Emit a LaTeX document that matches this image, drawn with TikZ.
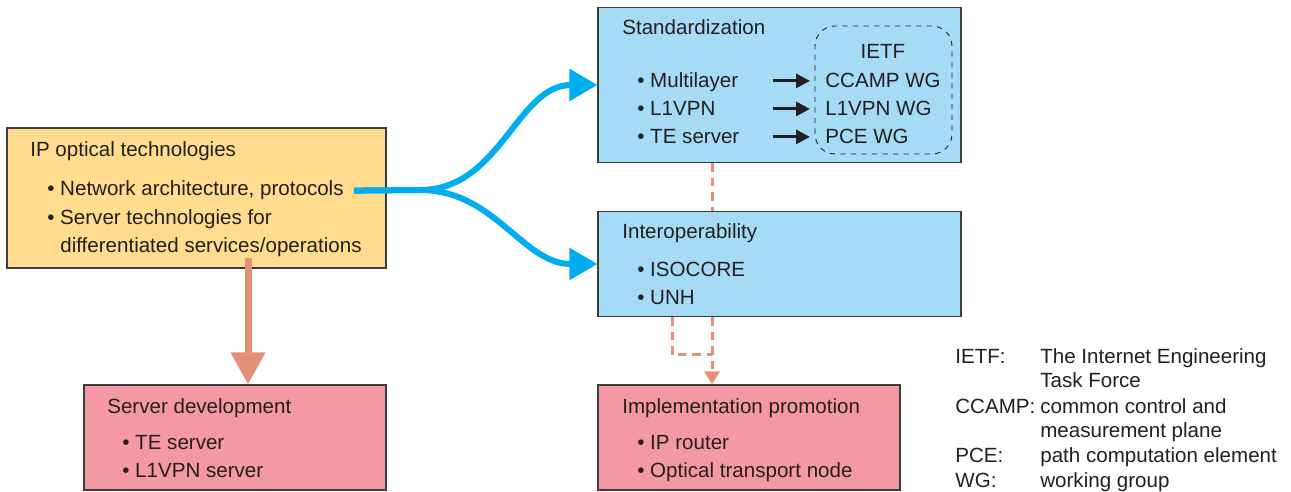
\documentclass[tikz,border=0pt]{standalone}
\usepackage{fontspec}
\setmainfont{Liberation Sans}
\usetikzlibrary{arrows.meta}

\definecolor{techyellow}{RGB}{255,220,142}
\definecolor{stdblue}{RGB}{166,219,246}
\definecolor{devpink}{RGB}{244,153,163}
\definecolor{flowcyan}{RGB}{0,174,239}
\definecolor{linksalmon}{RGB}{230,142,118}
\definecolor{boxline}{RGB}{60,60,60}
\definecolor{textdark}{RGB}{35,31,32}

\newcommand{\figfont}{\fontsize{11.7pt}{14pt}\selectfont}

\begin{document}
\begin{tikzpicture}[
            x=0.02cm, y=-0.02cm,
            box/.style={
                rectangle,
                draw=boxline,
                line width=0.7pt,
            },
            title/.style={
                anchor=base west,
                inner sep=0pt,
                text=textdark,
                font=\figfont
            },
            item/.style={
                anchor=base west,
                inner sep=0pt,
                text=textdark,
                font=\figfont
            },
            flow/.style={-{Triangle[length=0.56cm,width=0.62cm]}, draw=flowcyan, line width=0.12cm},
            feed/.style={-{Triangle[length=0.64cm,width=0.66cm]}, draw=linksalmon, line width=0.14cm},
            link/.style={draw=linksalmon, line width=0.06cm, dash pattern=on 0.17cm off 0.12cm},
            arrow/.style={-{Triangle[length=0.28cm,width=0.28cm]}, draw=textdark, line width=0.06cm}
        ]
        \useasboundingbox (0,0) rectangle (1291,492);

        % Outer boxes
        \node[box, fill=techyellow, minimum width=7.58cm, minimum height=2.8cm] (box1) at (196.5,198) {};
        \node[box, fill=stdblue, minimum width=7.26cm, minimum height=3.1cm] (box2) at (779.5,85) {};
        \node[box, fill=stdblue, minimum width=7.26cm, minimum height=2.1cm] (box3) at (779.5,264) {};
        \node[box, fill=devpink, minimum width=6.04cm, minimum height=2.1cm] (box4) at (235,437.5) {};
        \node[box, fill=devpink, minimum width=6.04cm, minimum height=2.1cm] (box5) at (749,437.5) {};
        \node[draw=textdark, dashed, line width=0.5pt, rounded corners=0.4cm,
              minimum width=2.74cm, minimum height=2.56cm] (ietf) at (883.5,90) {};

        % Box titles
        \node[title] (t1) at (30,157) {IP optical technologies};
        \node[title] (t2) at (622,35) {Standardization};
        \node[title] (t3) at (622,239) {Interoperability};
        \node[title] (t4) at (107,414) {Server development};
        \node[title] (t5) at (622,414) {Implementation promotion};
        \node[text=textdark, font=\figfont, anchor=base, inner sep=0pt] (t6) at (883,59) {IETF};

        % Items for box 1
        \node[item] (i11) at (47,196) {\textbullet\ Network architecture, protocols};
        \node[item] (i12) at (47,225) {\textbullet\ Server technologies for};
        \node[item] (i13) at (60,253) {differentiated services/operations};

        % Items for box 2
        \node[item] (i21) at (637,88) {\textbullet\ Multilayer};
        \node[item] (i22) at (637,116) {\textbullet\ L1VPN};
        \node[item] (i23) at (637,144) {\textbullet\ TE server};
        \node[item] (w21) at (825,88) {CCAMP WG};
        \node[item] (w22) at (825,116) {L1VPN WG};
        \node[item] (w23) at (825,144) {PCE WG};

        % Items for box 3
        \node[item] (i31) at (637,277) {\textbullet\ ISOCORE};
        \node[item] (i32) at (637,305) {\textbullet\ UNH};

        % Items for box 4 and box 5
        \node[item] (i41) at (122,450) {\textbullet\ TE server};
        \node[item] (i42) at (122,478) {\textbullet\ L1VPN server};
        \node[item] (i51) at (637,450) {\textbullet\ IP router};
        \node[item] (i52) at (637,478) {\textbullet\ Optical transport node};

        % Legend
        \node[item] (l1) at (955,364) {IETF:};
        \node[item] (d1) at (1040,364) {The Internet Engineering};
        \node[item] (d1b) at (1040,388) {Task Force};
        \node[item] (l2) at (955,414) {CCAMP:};
        \node[item] (d2) at (1040,414) {common control and};
        \node[item] (d2b) at (1040,438) {measurement plane};
        \node[item] (l3) at (955,463) {PCE:};
        \node[item] (d3) at (1040,463) {path computation element};
        \node[item] (l4) at (955,488) {WG:};
        \node[item] (d4) at (1040,488) {working group};

        % Helper columns
        \coordinate (split) at (420,190);
        \coordinate (drop) at (248,258);
        \coordinate (col1) at (712,0);
        \coordinate (col2) at (672,0);
        \coordinate (col3) at (773,0);
        \coordinate (knee) at (0,355);

        % Connecting arrows
        \draw[flow, shorten <=0.2cm] (i11.east) -- (split) to[out=0,in=180] (box2.west);
        \draw[flow, shorten <=0.2cm] (i11.east) -- (split) to[out=0,in=180] (box3.west);
        \draw[feed] (drop) -- (drop |- box4.north);
        \draw[link] (box2.south -| col1) -- (box3.north -| col1);
        \draw[link, -{Triangle[length=0.26cm,width=0.3cm]}] (box3.south -| col1) -- (box5.north -| col1);
        \draw[link] (box3.south -| col2) |- (knee -| col1);
        \draw[arrow, shorten >=0.3cm] (col3 |- w21.west) -- (w21.west);
        \draw[arrow, shorten >=0.3cm] (col3 |- w22.west) -- (w22.west);
        \draw[arrow, shorten >=0.3cm] (col3 |- w23.west) -- (w23.west);

        \end{tikzpicture}
\end{document}
